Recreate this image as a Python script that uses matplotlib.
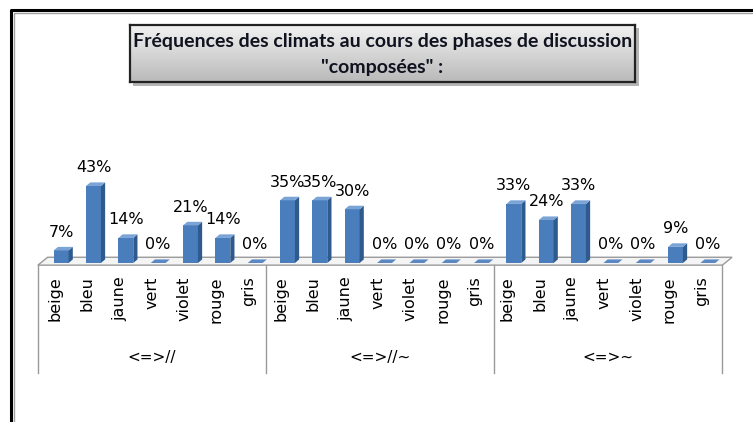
import numpy as np
import matplotlib.pyplot as plt
from matplotlib.patches import Polygon
from matplotlib.lines import Line2D
from matplotlib.colors import LinearSegmentedColormap

colours = ["beige", "bleu", "jaune", "vert", "violet", "rouge", "gris"]
phases = ["<=>//", "<=>//~", "<=>~"]
freq_par = [7, 43, 14, 0, 21, 14, 0]
freq_par_tilde = [35, 35, 30, 0, 0, 0, 0]
freq_tilde = [33, 24, 33, 0, 0, 9, 0]
title = 'Fréquences des climats au cours des phases de discussion\n"composées" :'

values = freq_par + freq_par_tilde + freq_tilde
labels = colours * len(phases)

W, H = 753, 422
fig = plt.figure(figsize=(W / 100, H / 100), dpi=100)
fig.patch.set_facecolor("white")

def px(x0, y0, x1, y1):
    # figure fraction box from pixel corners (top-left origin)
    return [x0 / W, 1 - y1 / H, (x1 - x0) / W, (y1 - y0) / H]

# outer frame: double line on top and left
for off, col, lw in [(0, "black", 2.2), (3, "#a0a0a0", 1.0)]:
    fig.add_artist(Line2D([(11 + off) / W, (11 + off) / W, 1], [0, 1 - (10 + off) / H, 1 - (10 + off) / H],
                          transform=fig.transFigure, color=col, lw=lw))

# plot area: y = 0 sits at pixel row 263
top_px, base_px = 150, 263
ax = fig.add_axes(px(45, top_px, 724, base_px))
scale = 77 / 43  # pixels per percent
ax.set_xlim(-0.5, len(values) - 0.5)
ax.set_ylim(0, (base_px - top_px) / scale)
ax.axis("off")

xs = np.arange(len(values))
bw = 0.46
dx, dy = 0.13, 2.0
front = "#4a7dbb"
side = "#2f5a8e"
topc = "#7aa3d6"

# floor slab
fl, fr = -0.72, 20.45
fb, ff = 3.2, -1.2
ax.add_patch(Polygon([(fl, ff), (fr, ff), (fr + 0.3, fb), (fl + 0.3, fb)], closed=True,
                     facecolor="#f4f4f4", edgecolor="#9a9a9a", lw=1.0, clip_on=False, zorder=1))

bars = ax.bar(xs, values, width=bw, color=front, zorder=3, clip_on=False)
for b, v in zip(bars, values):
    x0 = b.get_x()
    x1 = x0 + b.get_width()
    ax.add_patch(Polygon([(x1, 0), (x1 + dx, dy), (x1 + dx, v + dy), (x1, v)], closed=True,
                         facecolor=side, edgecolor="none", zorder=3, clip_on=False))
    ax.add_patch(Polygon([(x0, v), (x1, v), (x1 + dx, v + dy), (x0 + dx, v + dy)], closed=True,
                         facecolor=topc if v else "#5b88c2", edgecolor="none", zorder=4, clip_on=False))
    ax.annotate(f"{v}%", (b.get_x() + b.get_width() / 2, v + dy), xytext=(0, 5),
                textcoords="offset points", ha="center", va="bottom", fontsize=11.5, color="black",
                zorder=5, annotation_clip=False)

# category axis below the floor
for x, lab in zip(xs, labels):
    ax.text(x - 0.2, -7.5, lab, rotation=90, ha="center", va="top", fontsize=11.5,
            color="black", clip_on=False)

dividers = np.linspace(-0.72, 20.45, len(phases) + 1)
for d in dividers:
    ax.plot([d, d], [ff, -61.5], color="#9a9a9a", lw=1.0, clip_on=False, zorder=1)
for i, ph in enumerate(phases):
    ax.text((dividers[i] + dividers[i + 1]) / 2, -52.5, ph, ha="center", va="center",
            fontsize=11, color="black", clip_on=False)

# title box with gradient fill and drop shadow
shadow = fig.add_axes(px(133, 28, 639, 86), zorder=1)
shadow.set_facecolor("#b5b5b5")
shadow.set_xticks([])
shadow.set_yticks([])
for s in shadow.spines.values():
    s.set_visible(False)
tax = fig.add_axes(px(130, 25, 635, 82), zorder=2)
grad = np.linspace(0, 1, 100).reshape(-1, 1)
tax.imshow(grad, aspect="auto", cmap=LinearSegmentedColormap.from_list("g", ["#f2f2f2", "#b9b9b9"]),
           extent=[0, 1, 0, 1], origin="upper")
tax.set_xticks([])
tax.set_yticks([])
for s in tax.spines.values():
    s.set_color("#222222")
    s.set_linewidth(1.6)
tax.text(0.5, 0.48, title, ha="center", va="center", fontsize=14, fontweight="bold",
         family="Lato", color="#10131f", linespacing=1.6, transform=tax.transAxes)

fig.savefig("out.png", dpi=100)
